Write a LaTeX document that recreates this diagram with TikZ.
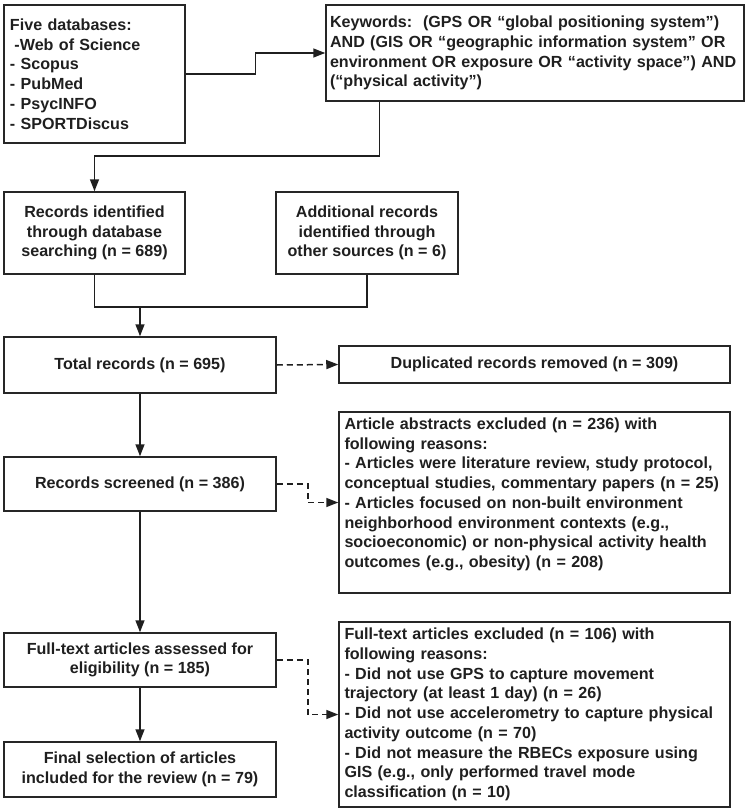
\documentclass[tikz,border=0pt]{standalone}
\usepackage{fontspec}
\setmainfont{Liberation Sans}
\usetikzlibrary{arrows.meta,calc}
\begin{document}
\begin{tikzpicture}[x=1bp,y=-1bp,
  box/.style={draw=black!85, line width=1.5bp, inner sep=0pt,
    font=\bfseries\fontsize{16.1bp}{19.7bp}\selectfont, text=black!88},
  lbox/.style={box, align=left},
  cbox/.style={box, align=center},
  ln/.style={line width=1.5bp, draw=black!88},
  arr/.style={ln, -{Triangle[length=12bp,width=9bp]}},
  dsh/.style={arr, dash pattern=on 6bp off 4bp}]
\path[use as bounding box] (0,0) rectangle (752,812);

\node[lbox, minimum width=181bp, minimum height=138bp, text width=169bp] (db) at (94.5,74)
  {Five databases:\\ \hspace*{4.5bp}-Web of Science\\ - Scopus\\ - PubMed\\ - PsycINFO\\ - SPORTDiscus};
\node[lbox, minimum width=418bp, minimum height=96bp, text width=410bp] (kw) at (535,53)
  {\mbox{Keywords:\ \ (GPS OR “global positioning system”)}\\ \mbox{AND (GIS OR “geographic information system” OR}\\ \mbox{environment OR exposure OR “activity space”) AND}\\ (“physical activity”)};

\node[cbox, minimum width=181bp, minimum height=82bp] (rid) at (94.5,233)
  {Records identified\\ through database\\ searching (n = 689)};
\node[cbox, minimum width=182bp, minimum height=82bp] (add) at (367,233)
  {Additional records\\ identified through\\ other sources (n = 6)};

\node[cbox, minimum width=272bp, minimum height=56bp] (tot) at (140,365) {Total records (n = 695)};
\node[cbox, minimum width=391bp, minimum height=37bp] (dup) at (534.5,364.5) {Duplicated records removed (n = 309)};

\node[lbox, minimum width=391bp, minimum height=181bp, text width=380bp] (abs) at (534.5,502.5)
  {Article abstracts excluded (n = 236) with\\
   following reasons:\\
   \mbox{- Articles were literature review, study protocol,}\\
   \mbox{conceptual studies, commentary papers (n = 25)}\\
   - Articles focused on non-built environment\\
   neighborhood environment contexts (e.g.,\\
   \mbox{socioeconomic) or non-physical activity health}\\
   outcomes (e.g., obesity) (n = 208)\\ ~};
\node[cbox, minimum width=272bp, minimum height=54bp] (scr) at (140,484) {Records screened (n = 386)};

\node[cbox, minimum width=272bp, minimum height=54bp] (ft) at (140,660)
  {Full-text articles assessed for\\ eligibility (n = 185)};
\node[lbox, minimum width=391bp, minimum height=185bp, text width=380bp] (fte) at (534.5,714.5)
  {Full-text articles excluded (n = 106) with\\
   following reasons:\\
   - Did not use GPS to capture movement\\
   trajectory (at least 1 day) (n = 26)\\
   \mbox{- Did not use accelerometry to capture physical}\\
   activity outcome (n = 70)\\
   \mbox{- Did not measure the RBECs exposure using}\\
   GIS (e.g., only performed travel mode\\
   classification (n = 10)};
\node[cbox, minimum width=272bp, minimum height=55bp] (fin) at (140,769.5)
  {Final selection of articles\\ included for the review (n = 79)};

% connectors
\draw[arr] (db.east) -- ($(db.east)!.5!(db.east -| kw.west)$) |- (kw.west);
\coordinate (kd) at ($(kw.south west)+(54,0)$);
\draw[arr] (kd) -- ++(0,54) -| (rid.north);
\coordinate (mj) at ($(rid.south)+(0,32)$);
\draw[ln] (rid.south) -- (mj) -| (add.south);
\draw[arr] (mj -| tot.north) -- (tot.north);
\draw[dsh] (tot.east) -- (dup.west);
\draw[arr] (tot.south) -- (scr.north);
\draw[dsh] (scr.east) -- ++(31,0) |- (abs.west);
\draw[arr] (scr.south) -- (ft.north);
\draw[dsh] (ft.east) -- ++(31,0) |- (fte.west);
\draw[arr] (ft.south) -- (fin.north);
\end{tikzpicture}
\end{document}
